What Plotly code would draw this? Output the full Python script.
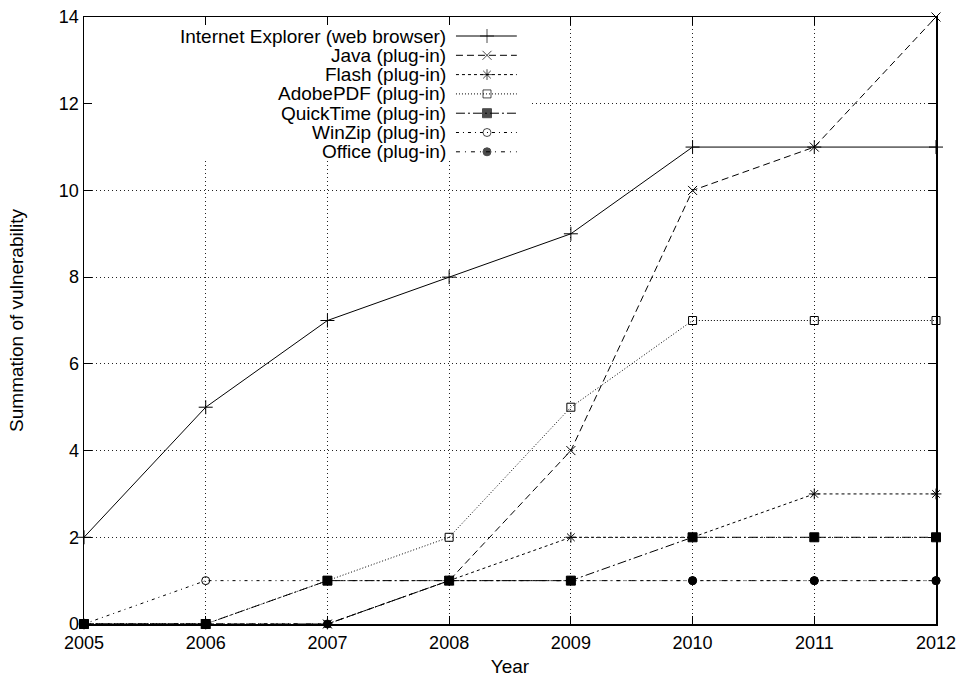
import plotly.graph_objects as go

years = [2005, 2006, 2007, 2008, 2009, 2010, 2011, 2012]
series_names = [
    "Internet Explorer (web browser)",
    "Java (plug-in)",
    "Flash (plug-in)",
    "AdobePDF (plug-in)",
    "QuickTime (plug-in)",
    "WinZip (plug-in)",
    "Office (plug-in)",
]
ie = [2, 5, 7, 8, 9, 11, 11, 11]
java = [0, 0, 0, 1, 4, 10, 11, 14]
flash = [0, 0, 0, 1, 2, 2, 3, 3]
adobe = [0, 0, 1, 2, 5, 7, 7, 7]
quicktime = [0, 0, 1, 1, 1, 2, 2, 2]
winzip = [0, 1, 1, 1, 1, 1, 1, 1]
office = [0, 0, 0, 1, 1, 1, 1, 1]
y_ticks = [0, 2, 4, 6, 8, 10, 12, 14]

values = [ie, java, flash, adobe, quicktime, winzip, office]
styles = [
    dict(dash="solid", symbol="cross-thin-open", size=10, lw=1),
    dict(dash="7px,4px", symbol="x-thin-open", size=9, lw=1),
    dict(dash="3px,3px", symbol="asterisk-open", size=9, lw=1),
    dict(dash="1px,2px", symbol="square-open", size=8, lw=1),
    dict(dash="9px,3px,2px,3px", symbol="square", size=9, lw=1),
    dict(dash="3px,4px,1px,4px", symbol="circle-open", size=8, lw=1),
    dict(dash="4px,5px,1px,5px", symbol="circle", size=8, lw=1),
]

FONT = "Liberation Sans, Arial, Helvetica, sans-serif"
FS = 19
TFS = 18

fig = go.Figure()
for name, vals, st in zip(series_names, values, styles):
    fig.add_trace(go.Scatter(
        x=years, y=vals, mode="lines+markers", name=name,
        line=dict(color="black", width=st["lw"], dash=st["dash"]),
        marker=dict(symbol=st["symbol"], size=st["size"], color="black",
                    line=dict(color="black", width=1)),
        showlegend=False, cliponaxis=False,
    ))

# custom legend (text right, sample on the right) on overlay axes
x_a, x_m, x_b = 0.4366, 0.4730, 0.5080
row0, drow = 0.9687, 0.0318
for i, (name, st) in enumerate(zip(series_names, styles)):
    ry = row0 - i * drow
    fig.add_trace(go.Scatter(
        x=[x_a, x_m, x_b], y=[ry, ry, ry], mode="lines+markers",
        xaxis="x2", yaxis="y2", showlegend=False, hoverinfo="skip",
        line=dict(color="black", width=st["lw"], dash=st["dash"]),
        marker=dict(symbol=st["symbol"], size=[0, st["size"], 0], color="black",
                    line=dict(color="black", width=1)),
    ))
    fig.add_annotation(
        x=0.4275, y=ry, xref="x2", yref="y2", text=name, showarrow=False,
        xanchor="right", yanchor="middle", font=dict(family=FONT, size=FS, color="black"),
    )

# opaque legend background hiding the grid (between grid and traces)
fig.add_shape(type="rect", xref="x", yref="y",
              x0=2005, x1=2008.66, y0=10.7, y1=14,
              fillcolor="white", line=dict(width=0), layer="between")

axis_common = dict(
    showline=True, linecolor="black", linewidth=1.5, mirror="ticks",
    ticks="inside", ticklen=8, tickcolor="black", tickwidth=1,
    showgrid=True, gridcolor="#222222", gridwidth=1, griddash="1px,3px",
    zeroline=False, automargin=False,
    tickfont=dict(family=FONT, size=TFS, color="black"),
)

fig.update_layout(
    width=958, height=682,
    margin=dict(l=84, r=22, t=17, b=58),
    paper_bgcolor="white", plot_bgcolor="white",
    font=dict(family=FONT, size=FS, color="black"),
    xaxis=dict(range=[2005, 2012], tickvals=years, ticktext=[str(y) for y in years],
               ticklabelstandoff=2,
               title=dict(text="Year", font=dict(family=FONT, size=FS), standoff=7),
               **axis_common),
    yaxis=dict(range=[0, 14], tickvals=y_ticks,
               title=dict(text="Summation of vulnerability", font=dict(family=FONT, size=FS), standoff=30),
               **axis_common),
    xaxis2=dict(overlaying="x", range=[0, 1], visible=False, fixedrange=True),
    yaxis2=dict(overlaying="y", range=[0, 1], visible=False, fixedrange=True),
    showlegend=False,
    hovermode=False,
)

fig.write_html(
    "out.html",
    config={"displayModeBar": False, "staticPlot": True},
    post_script="document.body.style.margin='0';document.body.style.overflow='hidden';",
)
